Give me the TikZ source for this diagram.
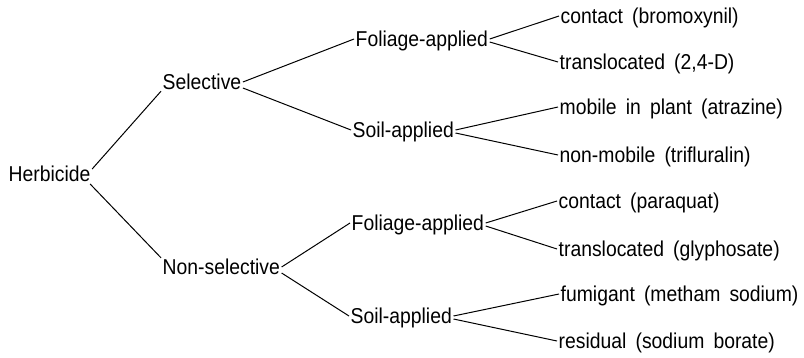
\documentclass[tikz,border=0pt]{standalone}
\usepackage{fontspec}
\setmainfont{Liberation Sans}[FakeStretch=0.9,WordSpace=1.7]
\begin{document}
\begin{tikzpicture}[x=1pt,y=-1pt,
  lbl/.style={anchor=west,inner sep=1.5pt,text height=15pt,text depth=0pt,
    font=\fontsize{21.5}{25}\selectfont},
  br/.style={line width=1pt}]
\useasboundingbox[fill=white] (0,0) rectangle (804,357);
\node[lbl] (h) at (7,174) {Herbicide};
\node[lbl] (s) at (161,82) {Selective};
\node[lbl] (n) at (161,267) {Non-selective};
\node[lbl] (sf) at (354,39) {Foliage-applied};
\node[lbl] (ss) at (351,130) {Soil-applied};
\node[lbl] (nf) at (350,223) {Foliage-applied};
\node[lbl] (ns) at (349,316) {Soil-applied};
\node[lbl] (l1) at (559,16) {contact (bromoxynil)};
\node[lbl] (l2) at (558,62) {translocated (2,4-D)};
\node[lbl] (l3) at (558,107) {mobile in plant (atrazine)};
\node[lbl] (l4) at (558,155) {non-mobile (trifluralin)};
\node[lbl] (l5) at (557,201) {contact (paraquat)};
\node[lbl] (l6) at (557,249) {translocated (glyphosate)};
\node[lbl] (l7) at (559,294) {fumigant (metham sodium)};
\node[lbl] (l8) at (557,341) {residual (sodium borate)};
\draw[br] (h.east) ++(0,-5) -- (s.south west);
\draw[br] (h.east) ++(-2,10) -- (n.north west);
\draw[br] (s.east) -- (sf.west);
\draw[br] (s.east) ++(0,6) -- (ss.west);
\draw[br] (n.east) -- (nf.west);
\draw[br] (n.east) ++(0,6) -- (ns.west);
\draw[br] (sf.east) -- (l1.west);
\draw[br] (sf.east) ++(0,3) -- (l2.west);
\draw[br] (ss.east) -- (l3.west);
\draw[br] (ss.east) ++(0,3) -- (l4.west);
\draw[br] (nf.east) -- (l5.west);
\draw[br] (nf.east) ++(0,3) -- (l6.west);
\draw[br] (ns.east) -- (l7.west);
\draw[br] (ns.east) ++(0,3) -- (l8.west);
\end{tikzpicture}
\end{document}
